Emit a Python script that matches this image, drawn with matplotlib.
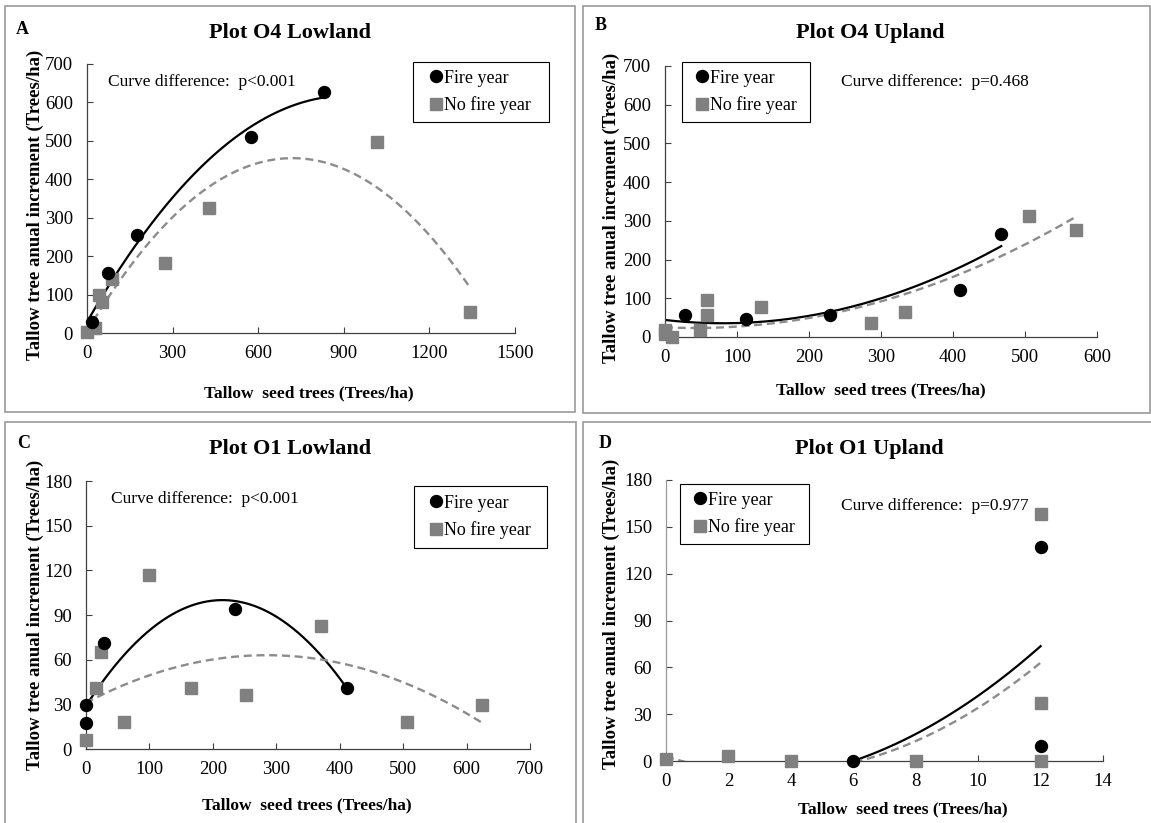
import numpy as np
import matplotlib.pyplot as plt
from matplotlib.patches import Rectangle
from matplotlib.lines import Line2D

plt.rcParams['font.family'] = ['Liberation Serif', 'DejaVu Serif']

W, H = 1151, 823

# Plot O4 Lowland
a_fire_x = [16, 72, 174, 574, 830]
a_fire_y = [29, 155, 255, 511, 626]
a_nofire_x = [0, 28, 42, 51, 87, 275, 429, 1016, 1344]
a_nofire_y = [3, 12, 99, 81, 140, 183, 325, 497, 55]
a_fire_fit = [-0.000709, 1.292, 28.8]
a_nofire_fit = [-0.00087, 1.2528, 4.0]
a_fire_span = [4, 830]
a_nofire_span = [0, 1344]

# Plot O4 Upland
b_fire_x = [28, 113, 229, 410, 467]
b_fire_y = [57, 47, 57, 121, 265]
b_nofire_x = [0, 0, 10, 49, 58, 58, 133, 286, 333, 505, 571]
b_nofire_y = [18, 8, 0, 18, 57, 96, 77, 37, 65, 313, 276]
b_fire_fit = [0.00133, -0.2128, 44.0]
b_nofire_fit = [0.001024, -0.084, 25.0]
b_fire_span = [0, 467]
b_nofire_span = [0, 571]

# Plot O1 Lowland
c_fire_x = [0, 0, 29, 235, 412]
c_fire_y = [29.5, 17.7, 71, 94, 41]
c_nofire_x = [0, 16, 24, 60, 100, 166, 252, 370, 506, 624]
c_nofire_y = [6, 41, 65, 18, 117, 41, 36, 82.5, 18, 29.5]
c_fire_fit = [-0.001536, 0.6605, 29.0]
c_nofire_fit = [-0.000394, 0.2246, 31.0]
c_fire_span = [0, 412]
c_nofire_span = [0, 624]

# Plot O1 Upland
d_fire_x = [6, 12, 12]
d_fire_y = [0, 9.6, 137]
d_nofire_x = [0, 2, 4, 8, 12, 12, 12]
d_nofire_y = [1.5, 3.5, 0, 0, 0, 37, 158.5]
d_fire_fit = [0.906, -4.052, -8.30]
d_nofire_fit = [0.944, -6.325, 2.926]
d_fire_span = [0, 12]
d_nofire_span = [0, 12]

titles = ['Plot O4 Lowland', 'Plot O4 Upland', 'Plot O1 Lowland', 'Plot O1 Upland']
letters = ['A', 'B', 'C', 'D']
pvals = ['Curve difference:  p<0.001', 'Curve difference:  p=0.468',
         'Curve difference:  p<0.001', 'Curve difference:  p=0.977']


def fx(p):
    return p / W


def fy(p):
    return 1 - p / H


fig = plt.figure(figsize=(W / 100, H / 100), dpi=100)

panels = [
    dict(fire=(a_fire_x, a_fire_y), nofire=(a_nofire_x, a_nofire_y),
         fits=(a_fire_fit, a_nofire_fit), spans=(a_fire_span, a_nofire_span),
         box=(87, 64, 515, 333), xlim=(0, 1500), xt=np.arange(0, 1501, 300),
         ylim=(0, 700), yt=np.arange(0, 701, 100),
         frame=(5, 6, 575, 412), letter=(22, 30), title=(290, 33),
         pv=(108, 82), leg=(413, 62, 549, 122, 431), ylab=(35, 205), xlab=(309, 393)),
    dict(fire=(b_fire_x, b_fire_y), nofire=(b_nofire_x, b_nofire_y),
         fits=(b_fire_fit, b_nofire_fit), spans=(b_fire_span, b_nofire_span),
         box=(665, 66, 1097, 337), xlim=(0, 600), xt=np.arange(0, 601, 100),
         ylim=(0, 700), yt=np.arange(0, 701, 100),
         frame=(583, 6, 1150, 413), letter=(601, 26), title=(870, 33),
         pv=(841, 82), leg=(682, 62, 810, 122, 697), ylab=(611, 208), xlab=(881, 390)),
    dict(fire=(c_fire_x, c_fire_y), nofire=(c_nofire_x, c_nofire_y),
         fits=(c_fire_fit, c_nofire_fit), spans=(c_fire_span, c_nofire_span),
         box=(86, 481, 530, 749), xlim=(0, 700), xt=np.arange(0, 701, 100),
         ylim=(0, 180), yt=np.arange(0, 181, 30),
         frame=(5, 422, 576, 830), letter=(24, 443), title=(290, 449),
         pv=(111, 499), leg=(414, 486, 547, 548, 431), ylab=(35, 615), xlab=(307, 805)),
    dict(fire=(d_fire_x, d_fire_y), nofire=(d_nofire_x, d_nofire_y),
         fits=(d_fire_fit, d_nofire_fit), spans=(d_fire_span, d_nofire_span),
         box=(666, 480, 1103, 761), xlim=(0, 14), xt=np.arange(0, 15, 2),
         ylim=(0, 180), yt=np.arange(0, 181, 30),
         frame=(583, 422, 1152, 830), letter=(605, 443), title=(869, 449),
         pv=(841, 506), leg=(680, 484, 809, 544, 695), ylab=(611, 614), xlab=(903, 809)),
]

grey = '#808080'
for i, p in enumerate(panels):
    l, t, r, b = p['box']
    ax = fig.add_axes([fx(l), fy(b), (r - l) / W, (b - t) / H])
    ax.set_xlim(*p['xlim'])
    ax.set_ylim(*p['ylim'])
    ax.set_xticks(p['xt'])
    ax.set_yticks(p['yt'])
    for s in ['top', 'right']:
        ax.spines[s].set_visible(False)
    for s in ['left', 'bottom']:
        ax.spines[s].set_color('#404040')
        ax.spines[s].set_linewidth(0.9)
    if i == 3:
        ax.spines['left'].set_color('#9a9a9a')
    ax.tick_params(axis='both', direction='in', length=4, width=0.8,
                   color='#404040', labelsize=13.5)
    ax.tick_params(axis='y', pad=10)
    ax.tick_params(axis='x', pad=9)

    # trend lines
    fs, ns = p['spans']
    ff, nf = p['fits']
    xs = np.linspace(fs[0], fs[1], 300)
    ax.plot(xs, np.polyval(ff, xs), color='black', lw=1.6, zorder=2)
    xs = np.linspace(ns[0], ns[1], 300)
    ax.plot(xs, np.polyval(nf, xs), color='#8c8c8c', lw=1.7,
            linestyle=(0, (3.4, 2.0)), zorder=2)

    ax.plot(p['nofire'][0], p['nofire'][1], 's', color=grey, ms=8.6,
            mec=grey, clip_on=False, zorder=4)
    ax.plot(p['fire'][0], p['fire'][1], 'o', color='black', ms=8.6,
            clip_on=False, zorder=5)

    # texts
    fig.text(fx(p['title'][0]), fy(p['title'][1]), titles[i], ha='center',
             va='center', fontsize=16, fontweight='bold')
    fig.text(fx(p['letter'][0]), fy(p['letter'][1]), letters[i], ha='center',
             va='center', fontsize=13, fontweight='bold')
    fig.text(fx(p['pv'][0]), fy(p['pv'][1]), pvals[i], ha='left',
             va='center', fontsize=12.5)
    fig.text(fx(p['ylab'][0]), fy(p['ylab'][1]),
             'Tallow tree anual increment (Trees/ha)', rotation=90,
             ha='center', va='center', fontsize=13.5, fontweight='bold')
    fig.text(fx(p['xlab'][0]), fy(p['xlab'][1]),
             'Tallow  seed trees (Trees/ha)', ha='center', va='center',
             fontsize=12.5, fontweight='bold')

    # legend
    x0, y0, x1, y1, mx = p['leg']
    fig.add_artist(Rectangle((fx(x0), fy(y1)), (x1 - x0) / W, (y1 - y0) / H,
                             transform=fig.transFigure, fill=False,
                             edgecolor='black', lw=0.8))
    handles = [Line2D([], [], marker='o', ls='none', color='black', ms=8.6),
               Line2D([], [], marker='s', ls='none', color=grey, ms=8.6)]
    ax.legend(handles, ['Fire year', 'No fire year'], loc='center left',
              bbox_to_anchor=(fx(mx), fy((y0 + y1) / 2)),
              bbox_transform=fig.transFigure, frameon=False, borderpad=0,
              borderaxespad=0, handlelength=0.6, handletextpad=0.1,
              labelspacing=0.55, fontsize=13)

    # panel frame
    fl, ft, fr, fb = p['frame']
    fig.add_artist(Rectangle((fx(fl), fy(fb)), (fr - fl) / W, (fb - ft) / H,
                             transform=fig.transFigure, fill=False,
                             edgecolor='#9a9a9a', lw=1.2))

fig.savefig('out.png', dpi=100)
